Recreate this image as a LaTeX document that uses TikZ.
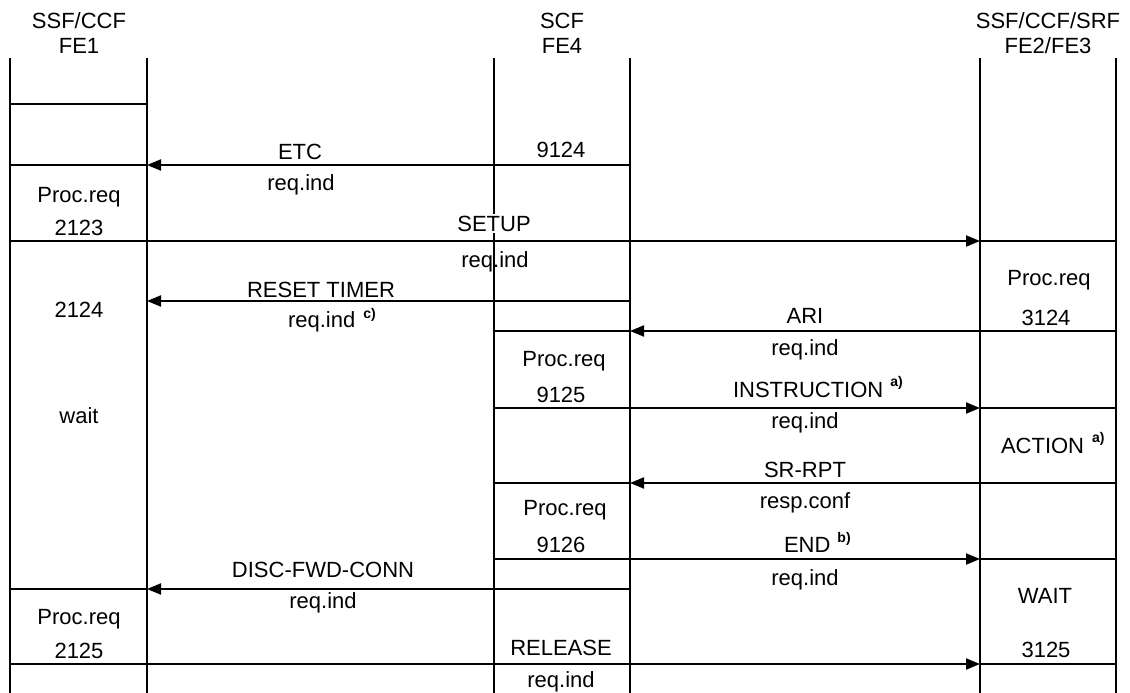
\documentclass[tikz,border=0pt]{standalone}
\usepackage{fontspec}
\setmainfont{Liberation Sans}
\usetikzlibrary{arrows.meta}
\newcommand{\supn}[2]{\raisebox{#1}{\fontsize{14}{14}\selectfont\bfseries #2}}
\begin{document}
\begin{tikzpicture}[x=1pt,y=-1pt,
  line width=2pt,
  msg/.style={-{Triangle[length=14pt,width=11pt]}},
  lbl/.style={anchor=base,inner sep=0pt,font=\fontsize{22}{26}\selectfont},
  lblw/.style={lbl,anchor=base west},
]
\useasboundingbox (0,0) rectangle (1130,693);
% lifelines
\foreach \n/\x in {A/10,B/147,C/494,D/630,E/980,F/1116} {
  \coordinate (\n top) at (\x,58);
  \coordinate (\n bot) at (\x,693);
  \draw (\n top) -- (\n bot);
  \foreach \y in {104,165,241,301,331,408,483,559,589,664}
    \coordinate (\n\y) at (\x,\y);
}
% rows and messages
\draw (A104) -- (B104);
\draw (A165) -- (B165);
\draw[msg] (D165) -- (B165);
\draw[msg] (A241) -- (E241);
\draw (E241) -- (F241);
\draw[msg] (D301) -- (B301);
\draw (C331) -- (D331);
\draw[msg] (F331) -- (D331);
\draw[msg] (C408) -- (E408);
\draw (E408) -- (F408);
\draw (C483) -- (D483);
\draw[msg] (F483) -- (D483);
\draw[msg] (C559) -- (E559);
\draw (E559) -- (F559);
\draw (A589) -- (B589);
\draw[msg] (D589) -- (B589);
\draw[msg] (A664) -- (E664);
\draw (E664) -- (F664);
% headers
\node[lbl] (h1a) at (79,29) {SSF/CCF};
\node[lbl] (h1b) at (79,54) {FE1};
\node[lbl] (h2a) at (562,29) {SCF};
\node[lbl] (h2b) at (562,54) {FE4};
\node[lbl] (h3a) at (1048,29) {SSF/CCF/SRF};
\node[lbl] (h3b) at (1048,54) {FE2/FE3};
% FE1 column
\node[lbl] (p2123) at (79,202) {Proc.req};
\node[lbl] (n2123) at (79,235) {2123};
\node[lbl] (n2124) at (79,317) {2124};
\node[lbl] (wait) at (79,423) {wait};
\node[lbl] (p2125) at (79,624) {Proc.req};
\node[lbl] (n2125) at (79,658) {2125};
% SCF column
\node[lbl] (n9124) at (561,157) {9124};
\node[lbl] (p9125) at (564,366) {Proc.req};
\node[lbl] (n9125) at (561,402) {9125};
\node[lbl] (p9126) at (565,515) {Proc.req};
\node[lbl] (n9126) at (561,552) {9126};
\node[lbl] (release) at (561,655) {RELEASE};
\node[lbl] (releasei) at (561,687) {req.ind};
% FE1-SCF messages
\node[lbl] (etc) at (300,159) {ETC};
\node[lbl] (etci) at (301,190) {req.ind};
\node[lbl,fill=white,inner xsep=1pt,inner ysep=2pt] (setup) at (494,231) {SETUP};
\node[lbl] (setupi) at (495,267) {req.ind};
\node[lbl] (reset) at (321,297) {RESET TIMER};
\node[lblw] (reseti) at (287,327) {req.ind\hspace{8pt}\supn{9pt}{c)}};
\node[lbl] (disc) at (323,577) {DISC-FWD-CONN};
\node[lbl] (disci) at (323,608) {req.ind};
% SCF-FE2/FE3 messages
\node[lbl] (ari) at (805,323) {ARI};
\node[lbl] (arii) at (805,355) {req.ind};
\node[lblw] (instr) at (732,397) {INSTRUCTION\hspace{7pt}\supn{11pt}{a)}};
\node[lbl] (instri) at (805,428) {req.ind};
\node[lbl] (srrpt) at (805,477) {SR-RPT};
\node[lbl] (srrpti) at (805,508) {resp.conf};
\node[lblw] (endm) at (783,552) {END\hspace{7pt}\supn{10pt}{b)}};
\node[lbl] (endi) at (805,585) {req.ind};
% FE2/FE3 column
\node[lbl] (p3124) at (1049,285) {Proc.req};
\node[lbl] (n3124) at (1046,325) {3124};
\node[lblw] (action) at (1000,453) {ACTION\hspace{8pt}\supn{11pt}{a)}};
\node[lbl] (waitr) at (1045,603) {WAIT};
\node[lbl] (n3125) at (1046,657) {3125};
\end{tikzpicture}
\end{document}
